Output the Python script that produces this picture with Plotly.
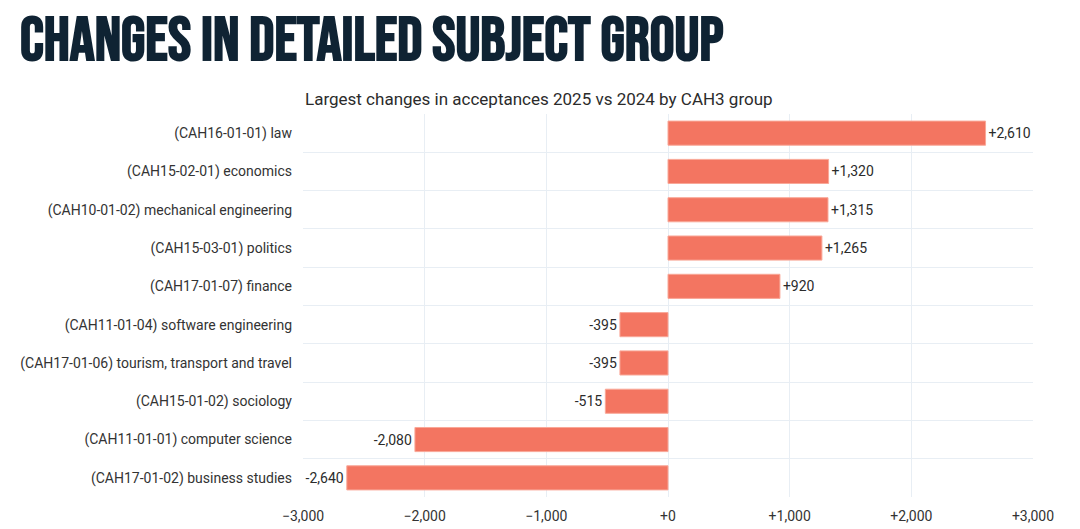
import plotly.graph_objects as go

categories = [
    "(CAH16-01-01) law",
    "(CAH15-02-01) economics",
    "(CAH10-01-02) mechanical engineering",
    "(CAH15-03-01) politics",
    "(CAH17-01-07) finance",
    "(CAH11-01-04) software engineering",
    "(CAH17-01-06) tourism, transport and travel",
    "(CAH15-01-02) sociology",
    "(CAH11-01-01) computer science",
    "(CAH17-01-02) business studies",
]
changes = [2610, 1320, 1315, 1265, 920, -395, -395, -515, -2080, -2640]
x_ticks = [-3000, -2000, -1000, 0, 1000, 2000, 3000]

n = len(categories)
positions = list(range(n))

L, R, T, B = 295, 55, 106, 40
PW, PH = 1080 - L - R, 529 - T - B

fig = go.Figure(go.Bar(
    x=changes,
    y=positions,
    orientation="h",
    marker=dict(color="#F37561", line=dict(color="#F9A898", width=1)),
    width=0.63,
    texttemplate="%{x:+,}",
    textposition="outside",
    textfont=dict(family="Roboto", size=14, color="#2b2b2b"),
    cliponaxis=False,
    hoverinfo="skip",
))

fig.update_layout(
    width=1080, height=529,
    margin=dict(l=L, r=R, t=T, b=B),
    paper_bgcolor="white", plot_bgcolor="white",
    showlegend=False,
    font=dict(family="Roboto", size=14, color="#333333"),
    xaxis=dict(
        range=[-3000, 3000], tickvals=x_ticks, tickformat="+,",
        showgrid=True, gridcolor="#E8EEF4", gridwidth=1,
        zeroline=False, showline=False, ticks="",
        ticklabelstandoff=9,
        tickfont=dict(family="Roboto", size=14, color="#333333"),
        fixedrange=True,
    ),
    yaxis=dict(
        range=[n - 0.5, -0.5], tickvals=positions, ticktext=categories,
        showgrid=False, zeroline=False, showline=False, ticks="",
        ticklabelstandoff=10,
        minor=dict(tickvals=[i - 0.5 for i in range(n + 1)], showgrid=True,
                   gridcolor="#E8EEF4", gridwidth=1, ticks=""),
        tickfont=dict(family="Roboto", size=14, color="#333333"),
        fixedrange=True,
    ),
    annotations=[
        dict(text="<b>CHANGES IN DETAILED SUBJECT GROUP</b>", xref="paper", yref="paper",
             x=(11 - L) / PW, y=1 + (T - 33) / PH, xanchor="left", yanchor="middle",
             showarrow=False, borderpad=0,
             font=dict(family="Bebas Neue, Oswald, Roboto Condensed, DejaVu Sans Condensed, Liberation Sans Narrow, sans-serif",
                       size=62, color="#0F2333")),
        dict(text="Largest changes in acceptances 2025 vs 2024 by CAH3 group", xref="paper", yref="paper",
             x=0, y=1 + (T - 91) / PH, xanchor="left", yanchor="middle",
             showarrow=False,
             font=dict(family="Roboto", size=17, color="#2b2b2b")),
    ],
)

fig.write_html("out.html")
